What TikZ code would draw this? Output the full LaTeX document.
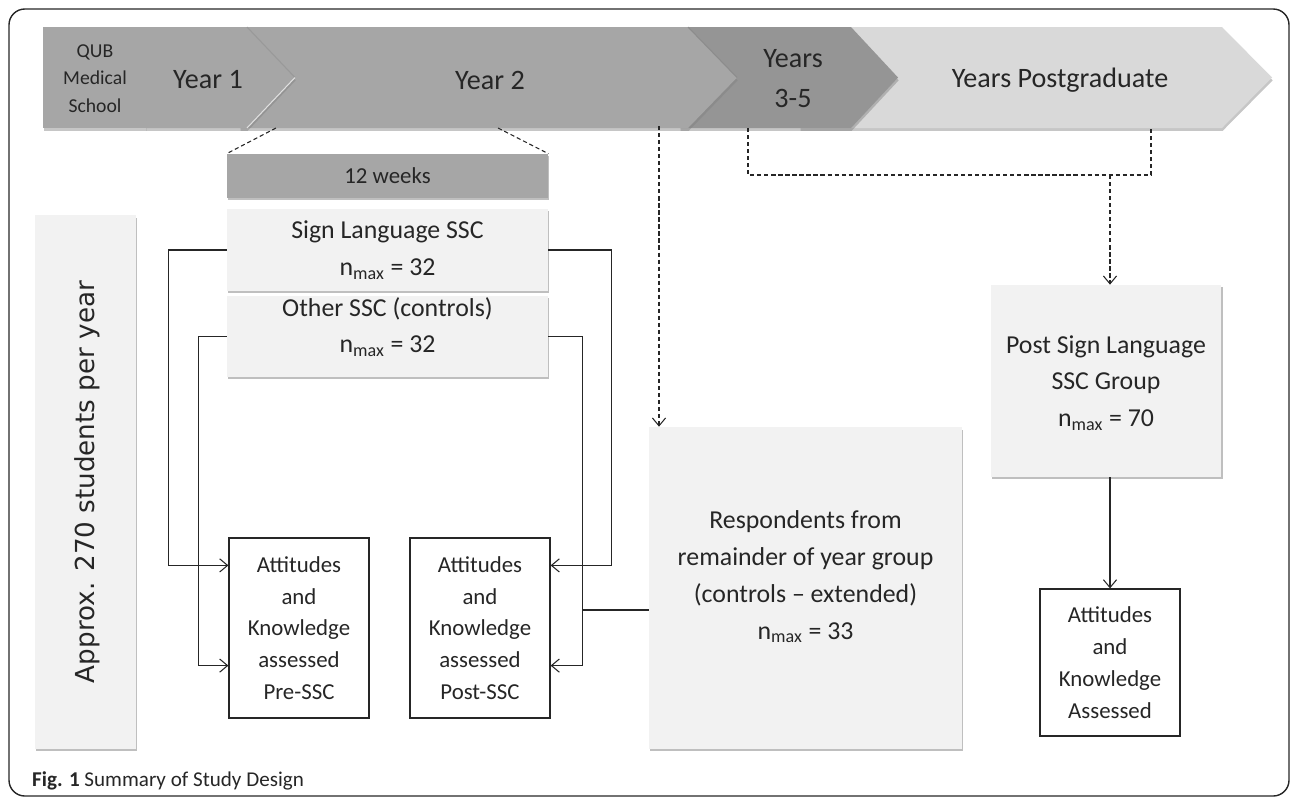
\documentclass[tikz,border=0pt]{standalone}
\usepackage{fontspec}
\setmainfont{Carlito}
\newfontfamily\vfont{DejaVu Sans}
\usetikzlibrary{arrows.meta,calc,shadows}
\definecolor{bandgray}{HTML}{A6A6A6}
\definecolor{darkband}{HTML}{959595}
\definecolor{paleband}{HTML}{D9D9D9}
\definecolor{boxgray}{HTML}{F2F2F2}
\definecolor{inkgray}{HTML}{262626}
\begin{document}
\begin{tikzpicture}[x=0.02cm, y=-0.02cm,
	>={Straight Barb[length=4.5pt,width=7.5pt]},
	band/.style={fill=bandgray, drop shadow={shadow xshift=0.4pt, shadow yshift=-1.6pt, opacity=0.45}},
	bandtxt/.style={text=inkgray, align=center, font=\fontsize{16}{22.7}\selectfont},
	lightbox/.style={fill=boxgray, inner sep=0pt, drop shadow={shadow xshift=0.8pt, shadow yshift=-1.4pt, opacity=0.5}},
	boxtxt/.style={text=inkgray, align=center, font=\fontsize{14.7}{20.9}\selectfont},
	resultbox/.style={draw=inkgray, line width=0.7pt, fill=white, inner sep=0pt, minimum width=2.8cm, text=inkgray, align=center, font=\fontsize{13}{18.1}\selectfont},
	link/.style={draw=inkgray, line width=0.6pt},
	dlink/.style={draw=inkgray, line width=0.6pt, dash pattern=on 2.4pt off 1.6pt}]
	
	\useasboundingbox (0,0) rectangle (1292,799);
	
	% --- KHUNG NGOÀI ---
	\draw[inkgray, line width=0.8pt, rounded corners=9pt] (9,9) rectangle (1289,796);
	
	% --- DẢI NĂM HỌC ---
	\path[band, fill=paleband] (800,27) -- (1222,27) -- (1272,77.5) -- (1222,128) -- (800,128) -- cycle;
	\path[band, fill=darkband] (680,27) -- (851,27) -- (898,77.5) -- (851,128) -- (680,128) -- cycle;
	\path[band] (240,27) -- (688,27) -- (737,77.5) -- (688,128) -- (240,128) -- cycle;
	\path[band] (146,27) -- (247,27) -- (295,77.5) -- (247,128) -- (146,128) -- cycle;
	\path[band] (43,27) rectangle (146,128);
	\draw[black!35, line width=0.5pt] (146,27) -- (146,128);
	% mép mũi nhọn
	\draw[black!40, line width=0.6pt] (247,27) -- (295,77.5);
	\draw[black!12, line width=0.6pt] (295,77.5) -- (247,128);
	\draw[black!45, line width=0.6pt] (688,27) -- (737,77.5);
	
	\node[bandtxt, font=\fontsize{11.2}{15.6}\selectfont] (qub) at (95,78.5) {QUB\\Medical\\School};
	\node[bandtxt] (y1) at (208,80) {Year 1};
	\node[bandtxt] (y2) at (490,80) {Year 2};
	\node[bandtxt] (y35) at (793,79) {Years\\3-5};
	\node[bandtxt] (ypg) at (1060,80) {Years Postgraduate};
	
	% --- KHỐI 12 TUẦN ---
	\node[lightbox, fill=bandgray, minimum width=6.42cm, minimum height=0.88cm, text=inkgray, font=\fontsize{13}{15}\selectfont] (weeks) at (387.5,176) {12 weeks};
	\node[lightbox, minimum width=6.42cm, minimum height=1.64cm, boxtxt] (sign) at (387.5,250) {Sign Language SSC\\n\textsubscript{max} = 32};
	\node[lightbox, minimum width=6.42cm, minimum height=1.62cm] (other) at (387.5,336.5) {};
	\node[boxtxt] (othertxt) at (387.5,327) {Other SSC (controls)\\n\textsubscript{max} = 32};
	
	% --- CỘT BÊN TRÁI ---
	\node[lightbox, minimum width=2.02cm, minimum height=10.68cm] (approx) at (85.5,482) {};
	\node[rotate=90, text=inkgray, font=\vfont\fontsize{14.9}{18}\selectfont] (approxtxt) at (87,482) {Approx. 270 students per year};
	
	% --- CÁC Ô ĐÁNH GIÁ ---
	\node[resultbox, minimum height=3.6cm] (pre) at (299,628) {Attitudes\\and\\Knowledge\\assessed\\Pre-SSC};
	\node[resultbox, minimum height=3.6cm] (post) at (480,628) {Attitudes\\and\\Knowledge\\assessed\\Post-SSC};
	
	\node[lightbox, minimum width=6.26cm, minimum height=6.44cm] (resp) at (805.5,588) {};
	\node[boxtxt] (resptxt) at (805.5,577) {Respondents from\\remainder of year group\\(controls -- extended)\\n\textsubscript{max} = 33};
	
	\node[lightbox, minimum width=4.62cm, minimum height=3.84cm] (group) at (1106,381) {};
	\node[boxtxt] (grouptxt) at (1106,383) {Post Sign Language\\SSC Group\\n\textsubscript{max} = 70};
	
	\node[resultbox, minimum height=2.94cm] (final) at (1110,662.5) {Attitudes\\and\\Knowledge\\Assessed};
	
	% --- MŨI TÊN LIỀN ---
	\draw[link, ->] (sign.west) -- ++(-58,0) |- ($(pre.north west)+(0,28)$);
	\draw[link, ->] (other.west) -- ++(-28,0) |- ($(pre.south west)+(0,-53)$);
	\draw[link, ->] (sign.east) -- ++(63,0) |- ($(post.north east)+(0,28)$);
	\draw[link, ->] (other.east) -- ++(34,0) |- ($(post.south east)+(0,-53)$);
	\draw[link] ($(resp.west)+(0,22)$) -- ++(-67,0);
	\draw[link, ->] (group.south -| final.north) -- (final.north);
	
	% --- ĐƯỜNG ĐỨT NÉT ---
	\coordinate (y2a) at (276,128);
	\coordinate (y2b) at (498,128);
	\coordinate (y2c) at (659,126);
	\coordinate (y35a) at (748,128);
	\coordinate (ypga) at (1151,128);
	\coordinate (brk) at (1110,175);
	\draw[dlink] (y2a) -- (weeks.north west);
	\draw[dlink] (y2b) -- (weeks.north east);
	\draw[dlink, ->] (y2c) -- (y2c |- resp.north);
	\draw[dlink] (y35a) -- ++(0,47) -| (ypga);
	\draw[dlink, ->] (brk) -- (brk |- group.north);
	
	% --- CHÚ THÍCH ---
	\node[anchor=base west, text=inkgray, font=\fontsize{12}{14}\selectfont] (caption) at (26,786) {\textbf{Fig. 1} Summary of Study Design};
	
\end{tikzpicture}
\end{document}
